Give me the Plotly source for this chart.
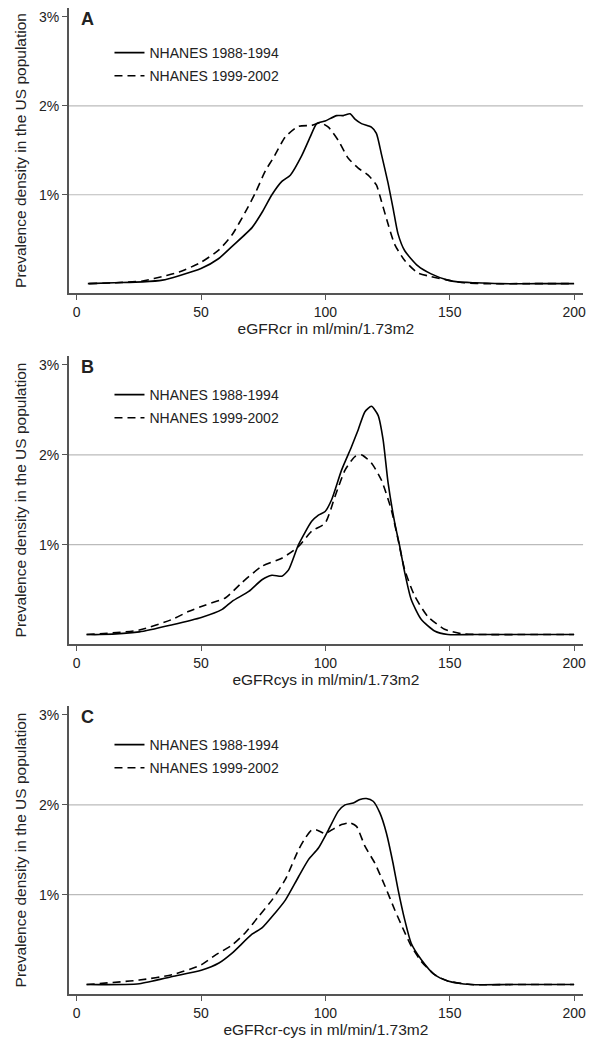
import plotly.graph_objects as go

# ---------------- data (percent prevalence density) ----------------
labels = ["NHANES 1988-1994", "NHANES 1999-2002"]
panel_letters = ["A", "B", "C"]
x_titles = ["eGFRcr in ml/min/1.73m2", "eGFRcys in ml/min/1.73m2", "eGFRcr-cys in ml/min/1.73m2"]
x_ticks = [0, 50, 100, 150, 200]
y_ticks = [1, 2, 3]
y_tick_text = ["1%", "2%", "3%"]
grid_levels = [1, 2]

a_old_x = [4.5, 15, 26.5, 34.5, 41.2, 50, 57, 62.5, 70.5, 74.5, 78.5, 82.5, 85.9, 90.5, 93.9, 96.5, 99.9,
           104.5, 107.2, 109.9, 111.9, 114.5, 118.5, 120.5, 122.5, 125.2, 127.2, 129.2, 131.9, 137.2,
           142.5, 149.2, 153.2, 160, 170, 185, 200]
a_old_y = [0.0, 0.01, 0.02, 0.04, 0.09, 0.17, 0.28, 0.42, 0.63, 0.80, 1.00, 1.15, 1.22, 1.44, 1.65, 1.80, 1.83,
           1.89, 1.89, 1.91, 1.85, 1.80, 1.76, 1.69, 1.46, 1.13, 0.85, 0.56, 0.37, 0.20,
           0.11, 0.04, 0.02, 0.01, 0.0, 0.0, 0.0]
a_new_x = [5, 15, 26.5, 35.9, 41.2, 50, 57.2, 62.5, 67.9, 72, 75.9, 79.2, 83.9, 89.2, 94.5, 97.9, 101.2,
           105.2, 109.2, 113.2, 117.2, 120.5, 122.5, 125.2, 127.9, 131.9, 137.2, 142.5, 149.2, 155.9,
           165, 180, 200]
a_new_y = [0.0, 0.01, 0.03, 0.09, 0.13, 0.24, 0.38, 0.55, 0.81, 1.03, 1.27, 1.42, 1.65, 1.77, 1.78, 1.81, 1.76,
           1.61, 1.41, 1.30, 1.22, 1.11, 0.93, 0.67, 0.44, 0.26, 0.12, 0.08, 0.04, 0.01,
           0.0, 0.0, 0.0]

b_old_x = [4, 9.3, 25.2, 38.5, 50.1, 58.5, 62.5, 69.2, 74.5, 78.5, 82.5, 85.2, 89.2, 94.5, 97.2, 99.9, 102.5,
           106.5, 110.5, 113.2, 115.9, 118.5, 121.2, 123.2, 125.2, 127.9, 129.9, 131.9, 134.5, 138.5,
           143.9, 149.2, 160, 180, 200]
b_old_y = [0.0, 0.0, 0.03, 0.11, 0.19, 0.28, 0.37, 0.48, 0.61, 0.66, 0.65, 0.72, 1.0, 1.26, 1.33, 1.37, 1.50,
           1.83, 2.09, 2.28, 2.48, 2.54, 2.44, 2.17, 1.69, 1.24, 0.98, 0.69, 0.39, 0.17,
           0.04, 0.0, 0.0, 0.0, 0.0]
b_new_x = [4, 25.2, 38.5, 45.2, 51.9, 59.9, 66.5, 74.5, 82.5, 89.2, 94.5, 99.9, 103.9, 107.9, 111.9, 114.5,
           118.5, 122.5, 126.5, 129.2, 131.9, 135.9, 141.2, 147.9, 154.5, 165, 180, 200]
b_new_y = [0.0, 0.05, 0.17, 0.26, 0.33, 0.41, 0.58, 0.76, 0.85, 0.98, 1.15, 1.24, 1.54, 1.83, 1.98, 2.00,
           1.91, 1.72, 1.39, 1.06, 0.72, 0.43, 0.20, 0.06, 0.01, 0.0, 0.0, 0.0]

c_old_x = [4, 25.2, 38.5, 50.1, 57.2, 62.5, 70.5, 74.5, 79.9, 83.9, 89.2, 93.2, 97.2, 101.2, 105.2, 107.9,
           111.2, 113.9, 116.5, 119.2, 121.9, 124.5, 127.2, 129.2, 131.9, 134.5, 138.5, 143.9, 149.2,
           158.5, 175, 200]
c_old_y = [0.0, 0.01, 0.09, 0.16, 0.24, 0.35, 0.56, 0.63, 0.80, 0.94, 1.20, 1.39, 1.52, 1.72, 1.93, 2.00,
           2.02, 2.06, 2.07, 2.04, 1.91, 1.69, 1.35, 1.06, 0.72, 0.46, 0.28, 0.11, 0.04,
           0.0, 0.0, 0.0]
c_new_x = [4, 25.2, 38.5, 50.1, 55.9, 62.5, 67.9, 73.2, 78.5, 83.9, 89.2, 91.9, 94.5, 96.5, 99.9, 102.5,
           106.5, 109.9, 112.5, 115.9, 119.9, 123.9, 127.9, 131.9, 134.5, 138.5, 143.9, 149.2, 158.5,
           175, 200]
c_new_y = [0.0, 0.05, 0.11, 0.22, 0.33, 0.44, 0.58, 0.76, 0.94, 1.17, 1.50, 1.63, 1.72, 1.72, 1.68, 1.72,
           1.78, 1.80, 1.76, 1.54, 1.35, 1.10, 0.83, 0.58, 0.43, 0.26, 0.11, 0.04, 0.0,
           0.0, 0.0]

panels = [
    (a_old_x, a_old_y, a_new_x, a_new_y),
    (b_old_x, b_old_y, b_new_x, b_new_y),
    (c_old_x, c_old_y, c_new_x, c_new_y),
]

# ---------------- layout geometry ----------------
OFF = 8                      # default page body margin
W, H = 601 - OFF, 1050 - OFF
FONT = "Arial, Liberation Sans, sans-serif"


def px_x(p):
    return (p - OFF) / W


def px_y(p):
    return 1 - (p - OFF) / H


# page-pixel positions (axis line bottom, plot top) for each panel
panel_px = [(293, 5), (644, 356), (994, 706)]
x_left_px, x_right_px = 69, 586
legend_top_px = [37, 379, 729]
AXIS_COLOR = "#555555"
TEXT_COLOR = "#222222"

fig = go.Figure()
layout = dict(
    width=W, height=H,
    margin=dict(l=0, r=0, t=0, b=0),
    paper_bgcolor="white", plot_bgcolor="white",
    font=dict(family=FONT, size=14, color=TEXT_COLOR),
    showlegend=True,
)
annotations = []
shapes = []

for i, (ox, oy, nx, ny) in enumerate(panels):
    n = i + 1
    xa = "x" if n == 1 else f"x{n}"
    ya = "y" if n == 1 else f"y{n}"
    lg = "legend" if n == 1 else f"legend{n}"
    bottom_px, top_px = panel_px[i]
    dom_y = [max(0, px_y(bottom_px)), min(1, px_y(top_px))]
    dom_x = [px_x(x_left_px), px_x(x_right_px)]

    fig.add_trace(go.Scatter(
        x=ox, y=oy, mode="lines", name=labels[0], xaxis=xa, yaxis=ya, legend=lg,
        legendgroup=f"g{n}a",
        line=dict(color="black", width=1.6, shape="spline", smoothing=0.6),
    ))
    fig.add_trace(go.Scatter(
        x=nx, y=ny, mode="lines", name=labels[1], xaxis=xa, yaxis=ya, legend=lg,
        legendgroup=f"g{n}b",
        line=dict(color="black", width=1.6, dash="8px,5px", shape="spline", smoothing=0.6),
    ))

    layout[f"xaxis{'' if n == 1 else n}"] = dict(
        domain=dom_x, anchor=ya, range=[-3.2, 203.6],
        tickvals=x_ticks, ticks="outside", ticklen=5, tickwidth=1.2, tickcolor=AXIS_COLOR,
        showline=True, linecolor=AXIS_COLOR, linewidth=1.5, showgrid=False, zeroline=False,
        tickfont=dict(size=14, color=TEXT_COLOR),
        title=dict(text=x_titles[i], font=dict(size=15.5, color=TEXT_COLOR), standoff=0),
    )
    layout[f"yaxis{'' if n == 1 else n}"] = dict(
        domain=dom_y, anchor=xa, range=[-0.105, 3.1],
        tickvals=y_ticks, ticktext=y_tick_text, ticks="outside", ticklen=5, tickwidth=1.2,
        tickcolor=AXIS_COLOR,
        showline=True, linecolor=AXIS_COLOR, linewidth=1.5, showgrid=False, zeroline=False,
        tickfont=dict(size=14, color=TEXT_COLOR),
        title=dict(text="Prevalence density in the US population",
                   font=dict(size=15.5, color=TEXT_COLOR), standoff=8),
    )
    layout[lg] = dict(
        x=px_x(110), y=px_y(legend_top_px[i]), xanchor="left", yanchor="top",
        bgcolor="rgba(0,0,0,0)", borderwidth=0, traceorder="grouped", tracegroupgap=2,
        font=dict(size=14, color=TEXT_COLOR, family=FONT),
    )
    for lv in grid_levels:
        shapes.append(dict(
            type="line", xref=f"{xa} domain", yref=ya, x0=0, x1=1, y0=lv, y1=lv,
            line=dict(color="#bbbbbb", width=1.2), layer="below",
        ))
    annotations.append(dict(
        text=f"<b>{panel_letters[i]}</b>", xref="paper", yref="paper",
        x=px_x(80), y=min(1, px_y(top_px)), xanchor="left", yanchor="top",
        borderpad=0,
        showarrow=False, font=dict(size=18, color=TEXT_COLOR, family=FONT),
    ))

layout["annotations"] = annotations
layout["shapes"] = shapes
fig.update_layout(**layout)
fig.write_html("out.html")
